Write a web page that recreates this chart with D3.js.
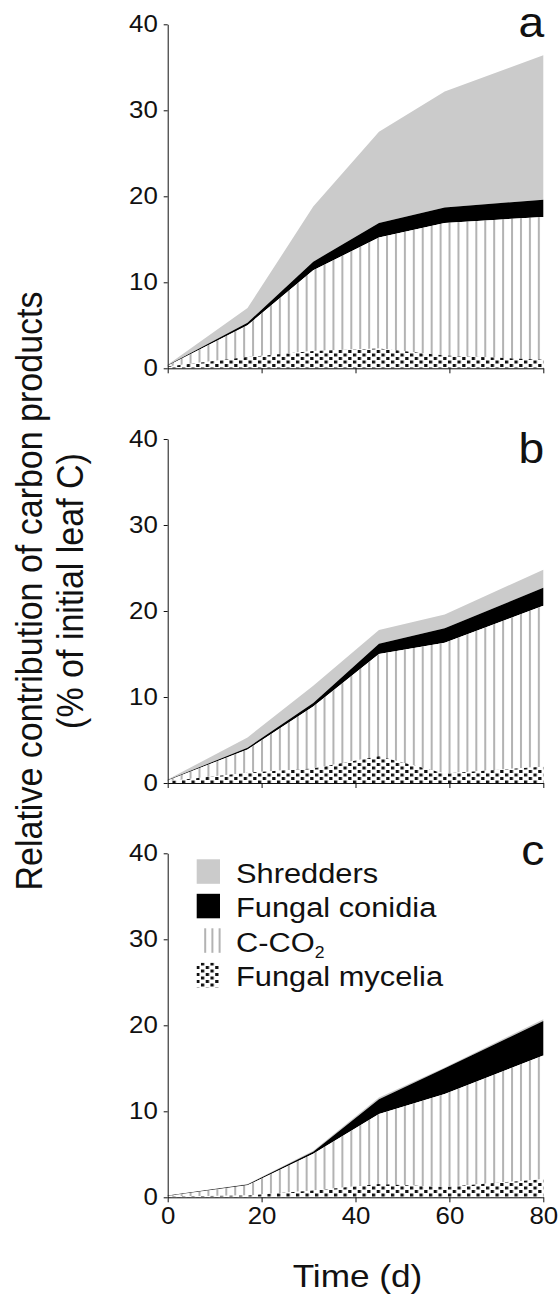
<!DOCTYPE html>
<html><head><meta charset="utf-8">
<script src="https://cdn.jsdelivr.net/npm/d3@7"></script>
<style>body{margin:0;background:#fff} svg{display:block} text{font-family:"Liberation Sans",Arial,sans-serif;fill:#111}</style>
</head><body><svg id="chart" width="560" height="1300"></svg>
<script>
// ---- data ----
const days = [0, 17, 31, 45, 59, 80];
const seriesKeys = ["mycelia", "co2", "conidia", "shredders"];
const legendKeys = ["shredders", "conidia", "co2", "mycelia"];
const legendLabels = ["Shredders", "Fungal conidia", "C-CO", "Fungal mycelia"];
const panelLetters = ["a", "b", "c"];
const yTicks = [0, 10, 20, 30, 40];
const xTicks = [0, 20, 40, 60, 80];

const aMycelia   = [0.2, 1.3, 2.0, 2.3, 1.5, 1.0];
const aCO2       = [0.1, 3.7, 9.4, 12.9, 15.4, 16.6];
const aConidia   = [0.05, 0.3, 1.0, 1.7, 1.8, 2.0];
const aShredders = [0.05, 1.7, 6.4, 10.6, 13.5, 16.8];

const bMycelia   = [0.2, 1.2, 1.7, 3.1, 1.1, 1.9];
const bCO2       = [0.1, 2.7, 7.2, 11.9, 15.2, 18.7];
const bConidia   = [0.05, 0.2, 0.4, 1.2, 1.7, 2.1];
const bShredders = [0.05, 1.2, 2.0, 1.6, 1.6, 2.1];

const cMycelia   = [0.1, 0.2, 0.8, 1.55, 1.2, 2.1];
const cCO2       = [0.05, 1.2, 4.25, 8.15, 10.8, 14.4];
const cConidia   = [0.05, 0.1, 0.25, 1.7, 3.0, 4.0];
const cShredders = [0.0, 0.05, 0.1, 0.2, 0.1, 0.2];

const panelsData = [
  {mycelia: aMycelia, co2: aCO2, conidia: aConidia, shredders: aShredders},
  {mycelia: bMycelia, co2: bCO2, conidia: bConidia, shredders: bShredders},
  {mycelia: cMycelia, co2: cCO2, conidia: cConidia, shredders: cShredders}
];

// ---- layout ----
const SX = 1.1; // horizontal text stretch
const left = 167.7, right = 543.3, ph = 344;
const tops = [24.3, 439, 853.3];
const letterBase = [36.7, 463.3, 865];

const svg = d3.select("#chart");
const defs = svg.append("defs");

// patterns
const pCO2 = defs.append("pattern").attr("id", "pco2").attr("patternUnits", "userSpaceOnUse")
  .attr("x", left + 4).attr("y", 0).attr("width", 8.93).attr("height", 10);
pCO2.append("rect").attr("width", 8.93).attr("height", 10).attr("fill", "#fff");
pCO2.append("rect").attr("x", 0).attr("width", 2).attr("height", 10).attr("fill", "#b3b3b3");

const pMyc = defs.append("pattern").attr("id", "pmyc").attr("patternUnits", "userSpaceOnUse")
  .attr("x", left).attr("y", 0).attr("width", 9.5).attr("height", 7);
pMyc.append("rect").attr("width", 9.5).attr("height", 7).attr("fill", "#fff");
pMyc.append("rect").attr("x", 0).attr("y", 0).attr("width", 3.3).attr("height", 3).attr("fill", "#111");
pMyc.append("rect").attr("x", 4.75).attr("y", 3.5).attr("width", 3.3).attr("height", 3).attr("fill", "#111");

const fills = {shredders: "#cbcbcb", conidia: "#000", co2: "url(#pco2)", mycelia: "url(#pmyc)"};

const x = d3.scaleLinear().domain([0, 80]).range([left, right]);

function stext(parent, tx, ty, str, size, anchor) {
  const g = parent.append("g").attr("transform", `translate(${tx},${ty}) scale(${SX},1)`);
  return g.append("text").attr("text-anchor", anchor).attr("font-size", size).text(str);
}

panelsData.forEach((pd, i) => {
  const top = tops[i];
  const y = d3.scaleLinear().domain([0, 40]).range([top + ph, top]);
  const rows = days.map((d, j) => {
    const r = {day: d};
    seriesKeys.forEach(k => r[k] = pd[k][j]);
    return r;
  });
  const stacked = d3.stack().keys(seriesKeys)(rows);
  const area = d3.area().x(d => x(d.data.day)).y0(d => y(d[0])).y1(d => y(d[1]));
  const g = svg.append("g");
  stacked.slice().reverse().forEach(s => {
    g.append("path").datum(s).attr("d", area).attr("fill", fills[s.key]);
  });

  // axes
  const ya = d3.axisLeft(y).tickValues(yTicks).tickSize(4).tickSizeOuter(0).tickPadding(5);
  const yg = svg.append("g").attr("transform", `translate(${left},0)`).call(ya);
  yg.selectAll("text").attr("font-size", 23.5).attr("transform", `scale(${SX},1)`).attr("fill", "#111");
  yg.selectAll("line,path").attr("stroke", "#111");

  const xa = d3.axisBottom(x).tickValues(xTicks).tickSize(5).tickSizeOuter(0).tickPadding(5);
  const xg = svg.append("g").attr("transform", `translate(0,${top + ph})`).call(xa);
  xg.selectAll("line,path").attr("stroke", "#111");
  if (i < 2) xg.selectAll("text").remove();
  else xg.selectAll("text").attr("font-size", 23.5).attr("transform", `scale(${SX},1)`).attr("fill", "#111");

  stext(svg, right + 1, letterBase[i], panelLetters[i], 42, "end");
});

// legend
const lg = svg.append("g");
const lx = 196.7, ly0 = 859.3, lstep = 34.5, sw = 23.3, sh = 24.5;
legendKeys.forEach((k, i) => {
  const yy = ly0 + i * lstep;
  if (k === "co2") {
    [0, 1, 2].forEach(j => lg.append("rect").attr("x", lx + 7.5 + j * 7.2).attr("y", yy).attr("width", 2).attr("height", sh).attr("fill", "#b3b3b3"));
  } else {
    lg.append("rect").attr("x", lx).attr("y", yy).attr("width", sw).attr("height", sh).attr("fill", fills[k]);
  }
  const t = stext(lg, 236, yy + 23.4, legendLabels[i], 28, "start");
  if (k === "co2") t.append("tspan").attr("font-size", 16).attr("dy", 6).text("2");
});

// axis titles
stext(svg, 357.5, 1286.7, "Time (d)", 32, "middle");
const yl = svg.append("g");
yl.append("g").attr("transform", `translate(41.5,591) scale(${SX},1) rotate(-90)`)
  .append("text").attr("text-anchor", "middle").attr("font-size", 34).text("Relative contribution of carbon products");
yl.append("g").attr("transform", `translate(83,591) scale(${SX},1) rotate(-90)`)
  .append("text").attr("text-anchor", "middle").attr("font-size", 34).text("(% of initial leaf C)");
</script></body></html>
